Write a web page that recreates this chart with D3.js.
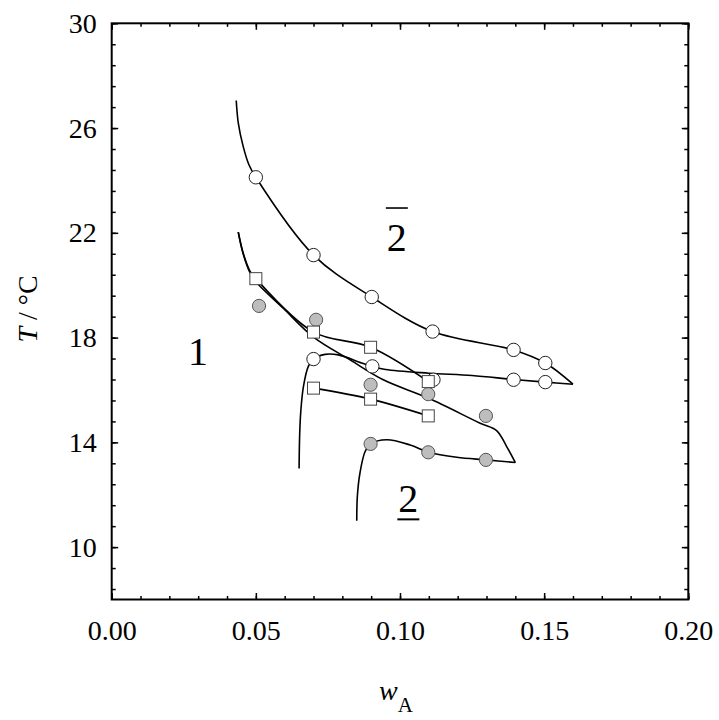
<!DOCTYPE html>
<html>
<head>
<meta charset="utf-8">
<script src="https://cdn.jsdelivr.net/npm/d3@7"></script>
<style>
body { margin: 0; background: #fff; }
svg { display: block; font-family: "Liberation Serif", "Times New Roman", serif; }
</style>
</head>
<body>
<div class="d3-container"></div>
<script>
// measured points [w_A, T]
const openCircles = [
    [0.05, 24.12], [0.07, 21.15], [0.0902, 19.55], [0.1113, 18.23], [0.1394, 17.53], [0.1504, 17.03],
    [0.1504, 16.30], [0.1394, 16.39], [0.1116, 16.39], [0.0904, 16.90], [0.07, 17.18]
];
const openSquares = [
    [0.05, 20.25], [0.07, 18.21], [0.0898, 17.63], [0.1098, 16.32],
    [0.07, 16.07], [0.0898, 15.65], [0.1098, 15.01]
];
const greyCircles = [
    [0.0511, 19.21], [0.0709, 18.68], [0.0898, 16.20], [0.1098, 15.84], [0.1298, 15.01],
    [0.0898, 13.94], [0.1098, 13.62], [0.1298, 13.33]
];

// fitted curves
const fitOpenUpper = [
    [0.0432, 27.05], [0.0439, 26.20], [0.0456, 25.30], [0.0476, 24.60], [0.05, 24.12],
    [0.07, 21.15], [0.0902, 19.55], [0.1113, 18.23], [0.1394, 17.53], [0.1504, 17.03], [0.160, 16.22]
];
const fitOpenLower = [
    [0.160, 16.22], [0.1504, 16.30], [0.1394, 16.40], [0.125, 16.55], [0.11, 16.64], [0.095, 16.78],
    [0.0904, 16.90], [0.0867, 17.03], [0.0786, 17.34], [0.074, 17.36], [0.0700, 17.18], [0.0682, 16.9],
    [0.0665, 16.13], [0.0656, 15.2], [0.0652, 14.3], [0.065, 13.0]
];
const fitSquareUpper = [
    [0.0439, 22.03], [0.0456, 21.23], [0.048, 20.53], [0.05, 20.25], [0.07, 18.21],
    [0.0898, 17.63], [0.1098, 16.32]
];
const fitSquareLower = [[0.07, 16.07], [0.0898, 15.65], [0.1098, 15.01]];
const fitGreyUpper = [
    [0.0439, 22.03], [0.0456, 21.20], [0.048, 20.47], [0.05, 20.13], [0.0595, 19.12], [0.07, 18.02],
    [0.0827, 17.15], [0.0942, 16.39], [0.1098, 15.69], [0.1278, 14.73], [0.1335, 14.45], [0.137, 13.84],
    [0.140, 13.23]
];
const fitGreyLower = [
    [0.140, 13.23], [0.13, 13.33], [0.1197, 13.43], [0.11, 13.62], [0.1035, 13.9], [0.0954, 14.1],
    [0.0898, 13.94], [0.0879, 13.65], [0.0861, 12.82], [0.0852, 11.93], [0.085, 11.01]
];

const xTicks = [0, 0.05, 0.10, 0.15, 0.20];
const yTicks = [10, 14, 18, 22, 26, 30];
const regionLabels = [
    { text: "1", w: 0.0299, T: 16.96, mark: "" },
    { text: "2", w: 0.0989, T: 21.29, mark: "over" },
    { text: "2", w: 0.1029, T: 11.35, mark: "under" }
];

const margin = { top: 23.3, left: 111.7 },
    width = 576.6,
    height = 576.2;

const svg = d3.select(".d3-container").append("svg").attr("width", 719).attr("height", 720);
const g = svg.append("g").attr("transform", `translate(${margin.left},${margin.top})`);

const x = d3.scaleLinear().domain([0, 0.2]).range([0, width]);
const y = d3.scaleLinear().domain([8, 30]).range([height, 0]);

const xMinor = d3.range(0, 21).map(i => i / 100);
const yMinor = d3.range(0, 28).map(i => 8.4 + i * 0.8).filter(v => v <= 30.01);

function styleAxis(sel) {
    sel.select(".domain").remove();
    sel.selectAll(".tick line").attr("stroke", "#000").attr("stroke-width", 1.5);
    sel.selectAll("text").attr("fill", "#000").style("font-size", "28px").style("font-family", "Liberation Serif, Times New Roman, serif");
}

// minor ticks, all four sides, pointing in
g.append("g").attr("transform", `translate(0,${height})`).call(d3.axisBottom(x).tickValues(xMinor).tickSize(-3.5).tickFormat("")).call(styleAxis);
g.append("g").call(d3.axisTop(x).tickValues(xMinor).tickSize(-3.5).tickFormat("")).call(styleAxis);
g.append("g").call(d3.axisLeft(y).tickValues(yMinor).tickSize(-4).tickFormat("")).call(styleAxis);
g.append("g").attr("transform", `translate(${width},0)`).call(d3.axisRight(y).tickValues(yMinor).tickSize(-4).tickFormat("")).call(styleAxis);

// major ticks
g.append("g").attr("transform", `translate(0,${height})`)
    .call(d3.axisBottom(x).tickValues(xTicks).tickSize(-6.5).tickPadding(21).tickFormat(d3.format(".2f")))
    .call(styleAxis);
g.append("g").call(d3.axisTop(x).tickValues(xTicks).tickSize(-6.5).tickFormat("")).call(styleAxis);
g.append("g")
    .call(d3.axisLeft(y).tickValues(yTicks).tickSize(-6.5).tickPadding(15).tickFormat(d3.format("d")))
    .call(styleAxis);
g.append("g").attr("transform", `translate(${width},0)`).call(d3.axisRight(y).tickValues(yTicks).tickSize(-6.5).tickFormat("")).call(styleAxis);

g.append("rect").attr("width", width).attr("height", height)
    .attr("fill", "none").attr("stroke", "#000").attr("stroke-width", 2);

// curves
const line = d3.line().x(d => x(d[0])).y(d => y(d[1])).curve(d3.curveCatmullRom.alpha(0.5));
[fitOpenUpper, fitOpenLower, fitSquareUpper, fitSquareLower, fitGreyUpper, fitGreyLower].forEach(pts => {
    g.append("path").attr("d", line(pts)).attr("fill", "none").attr("stroke", "#000").attr("stroke-width", 1.6);
});

// markers
g.selectAll(".grey").data(greyCircles).join("circle").attr("class", "grey")
    .attr("cx", d => x(d[0])).attr("cy", d => y(d[1])).attr("r", 6.6)
    .attr("fill", "#bdbdbd").attr("stroke", "#555").attr("stroke-width", 1);
g.selectAll(".open").data(openCircles).join("circle").attr("class", "open")
    .attr("cx", d => x(d[0])).attr("cy", d => y(d[1])).attr("r", 6.7)
    .attr("fill", "#fff").attr("stroke", "#222").attr("stroke-width", 1);
g.selectAll(".sq").data(openSquares).join("rect").attr("class", "sq")
    .attr("x", d => x(d[0]) - 6).attr("y", d => y(d[1]) - 6).attr("width", 12).attr("height", 12)
    .attr("fill", "#fff").attr("stroke", "#444").attr("stroke-width", 1);

// region labels
regionLabels.forEach(l => {
    const cx = x(l.w), by = y(l.T);
    g.append("text").attr("x", cx).attr("y", by).attr("text-anchor", "middle")
        .style("font-size", "40px").text(l.text);
    if (l.mark === "over") {
        g.append("line").attr("x1", cx - 11).attr("x2", cx + 11).attr("y1", by - 43.4).attr("y2", by - 43.4)
            .attr("stroke", "#000").attr("stroke-width", 1.6);
    } else if (l.mark === "under") {
        g.append("line").attr("x1", cx - 11).attr("x2", cx + 11).attr("y1", by + 7.6).attr("y2", by + 7.6)
            .attr("stroke", "#000").attr("stroke-width", 2);
    }
});

// axis titles
const xt = svg.append("text").attr("x", 396).attr("y", 700).attr("text-anchor", "middle").style("font-size", "28px");
xt.append("tspan").style("font-style", "italic").text("w");
xt.append("tspan").attr("dy", 12).style("font-size", "21px").text("A");

const yt = svg.append("text").attr("transform", "translate(37,309) rotate(-90)").attr("text-anchor", "middle").style("font-size", "28px");
yt.append("tspan").style("font-style", "italic").text("T");
yt.append("tspan").text(" / °C");
</script>
</body>
</html>
